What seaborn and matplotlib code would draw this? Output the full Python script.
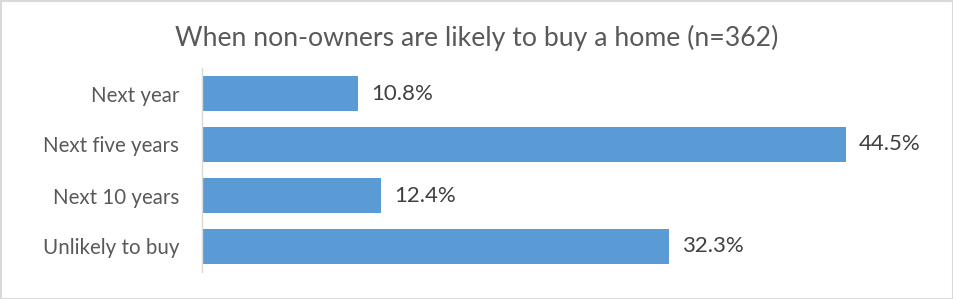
import matplotlib
matplotlib.use("Agg")
import matplotlib.pyplot as plt
import seaborn as sns
import pandas as pd
from matplotlib.patches import Rectangle

categories = ["Next year", "Next five years", "Next 10 years", "Unlikely to buy"]
values = [10.8, 44.5, 12.4, 32.3]
title = "When non-owners are likely to buy a home (n=362)"

sns.set_theme(style="white")
plt.rcParams['font.family'] = ['Lato', 'DejaVu Sans']

df = pd.DataFrame({"cat": categories, "val": values})

fig = plt.figure(figsize=(9.54, 2.99), dpi=100)
ax = fig.add_axes([202/954, 1-272/299, (925.5-202)/954, 204/299])
sns.barplot(data=df, x="val", y="cat", ax=ax, color="#5B9BD5", width=0.67,
            saturation=1, edgecolor="none")
ax.set_xlim(0, 50)
ax.set_ylim(3.5, -0.5)
ax.set_xlabel("")
ax.set_ylabel("")
ax.set_xticks([])
for s in ["top", "right", "bottom"]:
    ax.spines[s].set_visible(False)
ax.spines["left"].set_color("#D9D9D9")
ax.spines["left"].set_linewidth(1)
ax.tick_params(axis="y", length=0, pad=16.5, labelsize=14.8, labelcolor="#595959")

for i, v in enumerate(values):
    ax.annotate(f"{v:.1f}%", xy=(v, i), xytext=(9, 0), textcoords="offset points",
                va="center", ha="left", fontsize=16, color="#404040")

fig.text(477/954, 1-38/299, title, ha="center", va="center", fontsize=19.2, color="#595959")

fig.patches.append(Rectangle((0.5/954, 0.5/299), 1-1/954, 1-1/299, transform=fig.transFigure,
                             fill=False, edgecolor="#D9D9D9", linewidth=1.5))

fig.savefig("out.png", dpi=100)
